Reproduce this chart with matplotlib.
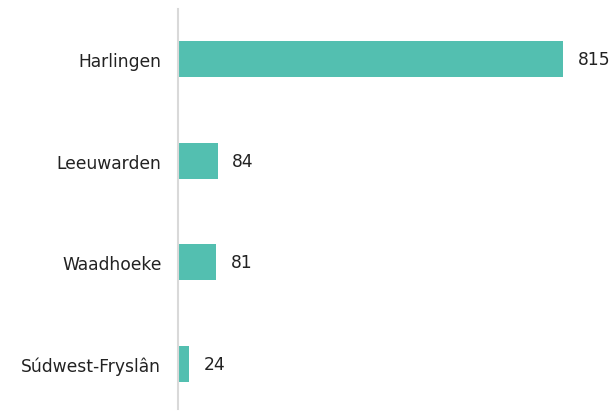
import matplotlib.pyplot as plt

## Data
regions = ["Harlingen", "Leeuwarden", "Waadhoeke", "Súdwest-Fryslân"]
counts = [815, 84, 81, 24]

bar_color = "#53bfb0"

fig = plt.figure(figsize=(6.13, 4.14), dpi=100)
ax = fig.add_axes([0.2904, 0.01, 0.7096, 0.966])

pos = list(range(len(regions)))
ax.barh(pos, counts, height=0.354, color=bar_color)

## Value labels to the right of each bar
for p, v in zip(pos, counts):
    ax.annotate(str(v), (v, p), xytext=(10.5, 0), textcoords="offset points",
                va="center", ha="left", fontsize=12.3, color="#222222")

ax.set_yticks(pos)
ax.set_yticklabels(regions, fontsize=12.3, color="#222222")
ax.tick_params(axis="y", length=0, pad=12)
ax.set_xticks([])
ax.set_xlim(0, 921)
ax.set_ylim(3.44, -0.49)

for side in ["top", "right", "bottom"]:
    ax.spines[side].set_visible(False)
ax.spines["left"].set_color("#d9d9d9")
ax.spines["left"].set_linewidth(1.5)

fig.savefig("out.png", dpi=100)
